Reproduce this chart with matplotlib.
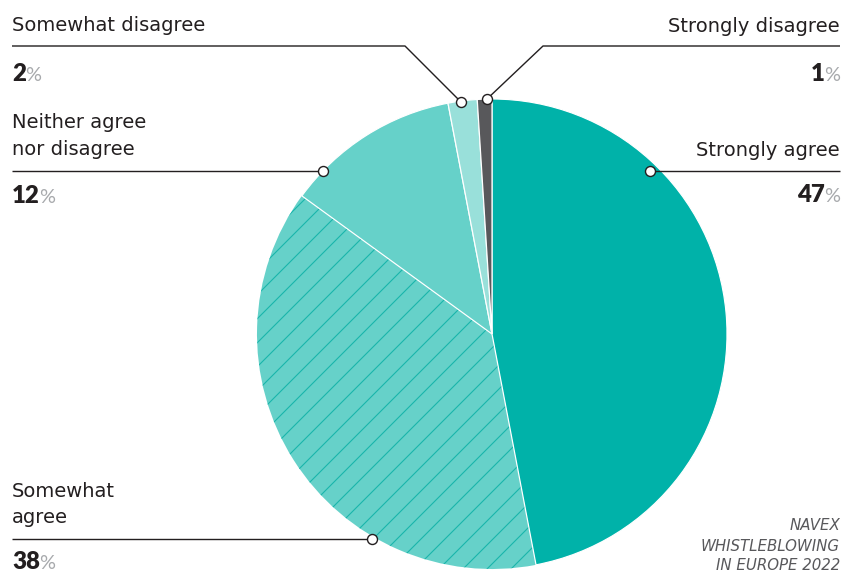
import matplotlib
matplotlib.use('Agg')
import matplotlib.pyplot as plt

# survey answers, clockwise from 12 o'clock
categories = ['Strongly agree', 'Somewhat agree', 'Neither agree nor disagree',
              'Somewhat disagree', 'Strongly disagree']
values = [47, 38, 12, 2, 1]
colors = ['#00B2A9', '#66D1C9', '#66D1C9', '#99E0DA', '#58585B']
source_lines = ['NAVEX', 'WHISTLEBLOWING', 'IN EUROPE 2022']

W, H = 857, 572
CX, CY, R = 492, 334, 235
DARK = '#231F20'

plt.rcParams['font.family'] = ['DejaVu Sans']
plt.rcParams['hatch.linewidth'] = 1.1

fig = plt.figure(figsize=(W / 72, H / 72), dpi=72)
ax = fig.add_axes([0, 0, 1, 1])

def yy(y):
    return H - y

wedges, _ = ax.pie(values, colors=colors, startangle=90, counterclock=False,
                   center=(CX, yy(CY)), radius=R,
                   wedgeprops=dict(edgecolor='white', linewidth=1.2))
# hatched slice: hatch takes edge colour, so drop its outline and keep it under the others
wedges[1].set_edgecolor('#19B5AB')
wedges[1].set_linewidth(0)
wedges[1].set_hatch('/')
wedges[1].set_zorder(0.9)

ax.set_xlim(0, W)
ax.set_ylim(0, H)
ax.set_aspect('equal')
ax.axis('off')

# label layout: side, leader path, label lines with baselines, number baseline
layout = {
    'Strongly agree': ('right', [(840, 171), (650, 171)],
                       [('Strongly agree', 156)], 202),
    'Somewhat agree': ('left', [(12, 539), (372, 539)],
                       [('Somewhat', 497), ('agree', 523)], 569),
    'Neither agree nor disagree': ('left', [(12, 171), (323, 171)],
                                   [('Neither agree', 128), ('nor disagree', 155)], 203),
    'Somewhat disagree': ('left', [(12, 46), (405, 46), (461, 102)],
                          [('Somewhat disagree', 31)], 81),
    'Strongly disagree': ('right', [(840, 46), (543, 46), (487, 99)],
                          [('Strongly disagree', 32)], 81),
}

fig.canvas.draw()
renderer = fig.canvas.get_renderer()

for cat, val in zip(categories, values):
    side, path, lines, num_y = layout[cat]
    xs = [p[0] for p in path]
    ys = [yy(p[1]) for p in path]
    ax.plot(xs, ys, color=DARK, lw=1.4, zorder=4, solid_capstyle='butt')
    ax.plot(xs[-1], ys[-1], 'o', ms=10, mfc='white', mec=DARK, mew=1.4, zorder=5)

    x0 = path[0][0]
    ha = 'left' if side == 'left' else 'right'
    for line, by in lines:
        ax.text(x0, yy(by), line, ha=ha, va='baseline', fontsize=19.5, color=DARK)

    if side == 'left':
        t = ax.text(x0, yy(num_y), str(val), ha='left', va='baseline',
                    fontsize=24, fontweight='heavy', color=DARK, family='Lato')
        bb = t.get_window_extent(renderer)
        ax.text(bb.x1 - 1, yy(num_y), '%', ha='left', va='baseline',
                fontsize=20, color='#A7A9AC', family='Lato')
    else:
        p = ax.text(x0, yy(num_y), '%', ha='right', va='baseline',
                    fontsize=20, color='#A7A9AC', family='Lato')
        bb = p.get_window_extent(renderer)
        ax.text(bb.x0 + 1, yy(num_y), str(val), ha='right', va='baseline',
                fontsize=24, fontweight='heavy', color=DARK, family='Lato')

for line, by in zip(source_lines, [530, 551, 570]):
    ax.text(840, yy(by), line, ha='right', va='baseline', fontsize=15,
            style='italic', color='#58585B')

fig.savefig('out.png', dpi=72)
